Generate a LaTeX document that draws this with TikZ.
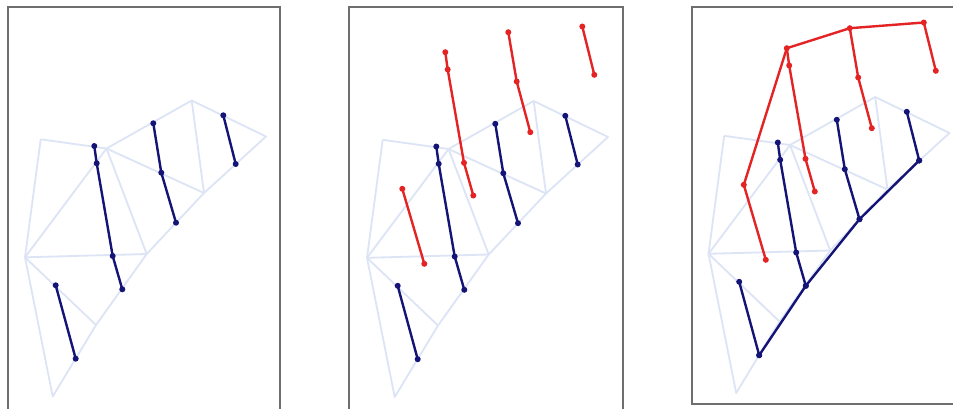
\documentclass[tikz,border=0pt]{standalone}
\definecolor{meshc}{RGB}{220,228,245}
\definecolor{navy}{RGB}{20,20,118}
\definecolor{redc}{RGB}{228,36,36}
\definecolor{framec}{RGB}{110,110,110}
\tikzset{
  mesh/.style={draw=meshc,line width=1.8pt,line join=round},
  bluebar/.style={draw=navy,line width=2.4pt,line join=round},
  redbar/.style={draw=redc,line width=2.4pt,line join=round},
  framebox/.style={draw=framec,line width=2.2pt},
  bdot/.style={fill=navy},
  rdot/.style={fill=redc}
}
\newcommand\defpanel{%
  \coordinate (A) at (40.7,139.3);
  \coordinate (B) at (106.5,148.5);
  \coordinate (C) at (191.7,100.5);
  \coordinate (D) at (266,136.5);
  \coordinate (E) at (204,193);
  \coordinate (F) at (146.7,254);
  \coordinate (G) at (25,257.3);
  \coordinate (H) at (96,325);
  \coordinate (I) at (52.7,396.5);
  \coordinate (b1a) at (94.3,146);
  \coordinate (b1b) at (96.7,163.3);
  \coordinate (b1c) at (112.7,256);
  \coordinate (b1d) at (122.3,289.3);
  \coordinate (b2a) at (153.3,123.3);
  \coordinate (b2b) at (161.3,172.7);
  \coordinate (b2c) at (176,222.7);
  \coordinate (b3a) at (223.3,115.3);
  \coordinate (b3b) at (235.7,164);
  \coordinate (b4a) at (55.7,285.3);
  \coordinate (b4b) at (75.7,358.7);
  \coordinate (r1a) at (103.3,51.7);
  \coordinate (r1b) at (105.7,69);
  \coordinate (r1c) at (122,162.3);
  \coordinate (r1d) at (131.3,195);
  \coordinate (r2a) at (166.3,31.7);
  \coordinate (r2b) at (174.7,81);
  \coordinate (r2c) at (188.3,131.7);
  \coordinate (r3a) at (240.3,26);
  \coordinate (r3b) at (252.3,74.3);
  \coordinate (r4a) at (60.3,188.3);
  \coordinate (r4b) at (82.3,263.3);
  \draw[mesh] (A) -- (B) -- (C) -- (D) -- (E) -- (F) -- (H) -- (I) -- (G) -- (A);
  \draw[mesh] (G) -- (F);
  \draw[mesh] (G) -- (H);
  \draw[mesh] (G) -- (B);
  \draw[mesh] (B) -- (F);
  \draw[mesh] (B) -- (E);
  \draw[mesh] (C) -- (E);
  \draw[bluebar] (b1a) -- (b1b) -- (b1c) -- (b1d);
  \draw[bluebar] (b2a) -- (b2b) -- (b2c);
  \draw[bluebar] (b3a) -- (b3b);
  \draw[bluebar] (b4a) -- (b4b);
  \foreach \p in {b1a,b1b,b1c,b1d,b2a,b2b,b2c,b3a,b3b,b4a,b4b}
    \fill[bdot] (\p) circle (3);
}
\newcommand\redbars{%
  \draw[redbar] (r1a) -- (r1b) -- (r1c) -- (r1d);
  \draw[redbar] (r2a) -- (r2b) -- (r2c);
  \draw[redbar] (r3a) -- (r3b);
  \draw[redbar] (r4a) -- (r4b);
}
\newcommand\reddots{%
  \foreach \p in {r1a,r1b,r1c,r1d,r2a,r2b,r2c,r3a,r3b,r4a,r4b}
    \fill[rdot] (\p) circle (3);
}
\begin{document}
\begin{tikzpicture}[x=1pt,y=-1pt]
  \useasboundingbox[fill=white] (0,0) rectangle (953,408);
  % frames
  \draw[framebox] (8,415) -- (8,7) -- (280,7) -- (280,415);
  \draw[framebox] (349,415) -- (349,7) -- (623,7) -- (623,415);
  \draw[framebox] (965,404) -- (692,404) -- (692,7) -- (965,7);
  % panel 1
  \begin{scope}[name prefix=pa-]
    \defpanel
  \end{scope}
  % panel 2
  \begin{scope}[shift={(342,0.5)},name prefix=pb-]
    \defpanel
    \redbars
    \reddots
  \end{scope}
  % panel 3
  \begin{scope}[shift={(683.5,-3.5)},name prefix=pc-]
    \defpanel
    \draw[bluebar] (b4b) -- (b1d) -- (b2c) -- (b3b);
    \foreach \p in {b4b,b1d,b2c,b3b} \fill[bdot] (\p) circle (3);
    \redbars
    \draw[redbar] (r4a) -- (r1a) -- (r2a) -- (r3a);
    \reddots
  \end{scope}
\end{tikzpicture}
\end{document}
